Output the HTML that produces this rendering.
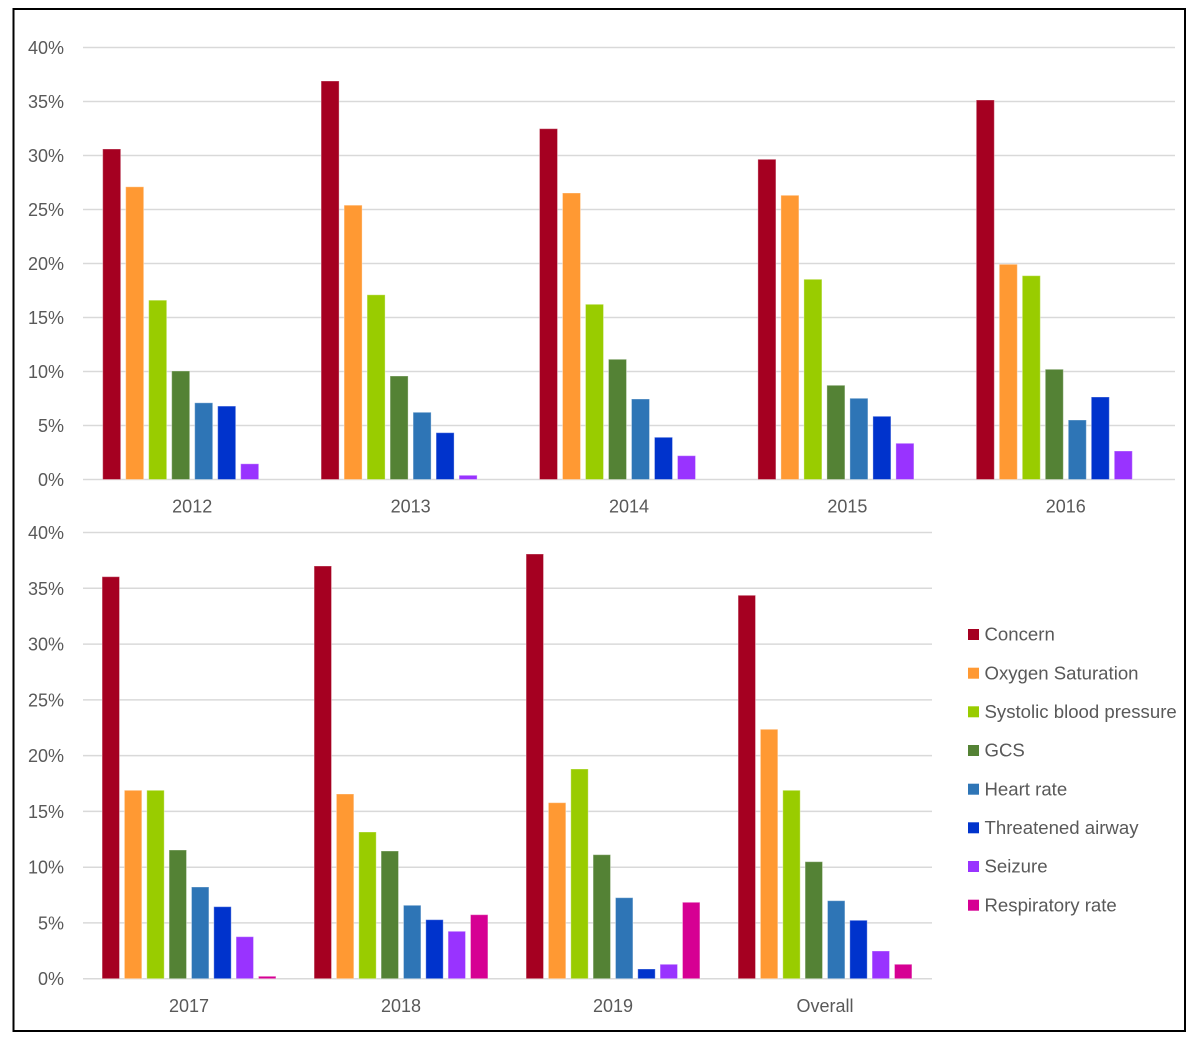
<!DOCTYPE html>
<html><head><meta charset="utf-8"><style>
html,body{margin:0;padding:0;background:#fff;}
svg{display:block;}
text{font-family:"Liberation Sans",Arial,sans-serif;fill:#595959;font-size:18px;}
.lg text{font-size:18.6px;}
</style></head><body>
<svg width="1200" height="1038" viewBox="0 0 1200 1038" xmlns="http://www.w3.org/2000/svg">
<rect x="0" y="0" width="1200" height="1038" fill="#fff"/>
<rect x="13.5" y="9" width="1171.5" height="1022" fill="none" stroke="#000" stroke-width="2"/>
<!-- Top gridlines -->
<g stroke="#D9D9D9" stroke-width="1.5">
<line x1="83" x2="1175" y1="47.5" y2="47.5"/><line x1="83" x2="1175" y1="101.5" y2="101.5"/>
<line x1="83" x2="1175" y1="155.5" y2="155.5"/><line x1="83" x2="1175" y1="209.5" y2="209.5"/>
<line x1="83" x2="1175" y1="263.5" y2="263.5"/><line x1="83" x2="1175" y1="317.5" y2="317.5"/>
<line x1="83" x2="1175" y1="371.5" y2="371.5"/><line x1="83" x2="1175" y1="425.5" y2="425.5"/>
<line x1="83" x2="1175" y1="479.5" y2="479.5"/>
</g>
<g text-anchor="end">
<text x="64" y="54">40%</text><text x="64" y="108">35%</text><text x="64" y="162">30%</text>
<text x="64" y="216">25%</text><text x="64" y="270">20%</text><text x="64" y="324">15%</text>
<text x="64" y="378">10%</text><text x="64" y="432">5%</text><text x="64" y="486">0%</text>
</g>
<g text-anchor="middle">
<text x="192.2" y="512.5">2012</text><text x="410.6" y="512.5">2013</text><text x="629" y="512.5">2014</text>
<text x="847.4" y="512.5">2015</text><text x="1065.8" y="512.5">2016</text>
</g>
<!-- Top bars -->
<g stroke="#ffffff" stroke-opacity="0.35" stroke-width="1">
<rect x="102.7" y="149" width="18" height="330.5" fill="#A50021"/>
<rect x="125.7" y="186.8" width="18" height="292.7" fill="#FF9933"/>
<rect x="148.7" y="300.2" width="18" height="179.3" fill="#99CC00"/>
<rect x="171.7" y="371" width="18" height="108.5" fill="#548235"/>
<rect x="194.7" y="402.8" width="18" height="76.7" fill="#2E75B6"/>
<rect x="217.7" y="406.1" width="18" height="73.4" fill="#0033CC"/>
<rect x="240.7" y="463.8" width="18" height="15.7" fill="#9933FF"/>
<rect x="321.1" y="81" width="18" height="398.5" fill="#A50021"/>
<rect x="344.1" y="205.2" width="18" height="274.3" fill="#FF9933"/>
<rect x="367.1" y="294.8" width="18" height="184.7" fill="#99CC00"/>
<rect x="390.1" y="376" width="18" height="103.5" fill="#548235"/>
<rect x="413.1" y="412.3" width="18" height="67.2" fill="#2E75B6"/>
<rect x="436.1" y="432.7" width="18" height="46.8" fill="#0033CC"/>
<rect x="459.1" y="475.3" width="18" height="4.2" fill="#9933FF"/>
<rect x="539.5" y="128.7" width="18" height="350.8" fill="#A50021"/>
<rect x="562.5" y="193" width="18" height="286.5" fill="#FF9933"/>
<rect x="585.5" y="304.3" width="18" height="175.2" fill="#99CC00"/>
<rect x="608.5" y="359.3" width="18" height="120.2" fill="#548235"/>
<rect x="631.5" y="399" width="18" height="80.5" fill="#2E75B6"/>
<rect x="654.5" y="437.3" width="18" height="42.2" fill="#0033CC"/>
<rect x="677.5" y="455.7" width="18" height="23.8" fill="#9933FF"/>
<rect x="757.9" y="159.3" width="18" height="320.2" fill="#A50021"/>
<rect x="780.9" y="195.3" width="18" height="284.2" fill="#FF9933"/>
<rect x="803.9" y="279.3" width="18" height="200.2" fill="#99CC00"/>
<rect x="826.9" y="385.3" width="18" height="94.2" fill="#548235"/>
<rect x="849.9" y="398.3" width="18" height="81.2" fill="#2E75B6"/>
<rect x="872.9" y="416.3" width="18" height="63.2" fill="#0033CC"/>
<rect x="895.9" y="443.3" width="18" height="36.2" fill="#9933FF"/>
<rect x="976.3" y="100" width="18" height="379.5" fill="#A50021"/>
<rect x="999.3" y="264.3" width="18" height="215.2" fill="#FF9933"/>
<rect x="1022.3" y="275.7" width="18" height="203.8" fill="#99CC00"/>
<rect x="1045.3" y="369.3" width="18" height="110.2" fill="#548235"/>
<rect x="1068.3" y="420" width="18" height="59.5" fill="#2E75B6"/>
<rect x="1091.3" y="397" width="18" height="82.5" fill="#0033CC"/>
<rect x="1114.3" y="451" width="18" height="28.5" fill="#9933FF"/>
</g>

<!-- Bottom gridlines -->
<g stroke="#D9D9D9" stroke-width="1.5">
<line x1="83" x2="932" y1="532.5" y2="532.5"/><line x1="83" x2="932" y1="588.3" y2="588.3"/>
<line x1="83" x2="932" y1="644.1" y2="644.1"/><line x1="83" x2="932" y1="699.9" y2="699.9"/>
<line x1="83" x2="932" y1="755.6" y2="755.6"/><line x1="83" x2="932" y1="811.4" y2="811.4"/>
<line x1="83" x2="932" y1="867.2" y2="867.2"/><line x1="83" x2="932" y1="922.9" y2="922.9"/>
<line x1="83" x2="932" y1="978.7" y2="978.7"/>
</g>
<g text-anchor="end">
<text x="64" y="539">40%</text><text x="64" y="595">35%</text><text x="64" y="650.5">30%</text>
<text x="64" y="706.5">25%</text><text x="64" y="762">20%</text><text x="64" y="818">15%</text>
<text x="64" y="873.5">10%</text><text x="64" y="929.5">5%</text><text x="64" y="985">0%</text>
</g>
<g text-anchor="middle">
<text x="189" y="1012">2017</text><text x="401" y="1012">2018</text><text x="613" y="1012">2019</text>
<text x="825" y="1012">Overall</text>
</g>
<!-- Bottom bars -->
<g stroke="#ffffff" stroke-opacity="0.35" stroke-width="1">
<rect x="102.1" y="576.7" width="17.4" height="402" fill="#A50021"/>
<rect x="124.4" y="790.3" width="17.4" height="188.4" fill="#FF9933"/>
<rect x="146.8" y="790.3" width="17.4" height="188.4" fill="#99CC00"/>
<rect x="169.1" y="850" width="17.4" height="128.7" fill="#548235"/>
<rect x="191.5" y="887" width="17.4" height="91.7" fill="#2E75B6"/>
<rect x="213.8" y="906.7" width="17.4" height="72" fill="#0033CC"/>
<rect x="236.1" y="936.7" width="17.4" height="42" fill="#9933FF"/>
<rect x="258.5" y="976.3" width="17.4" height="2.4" fill="#D60093"/>
<rect x="314.1" y="566" width="17.4" height="412.7" fill="#A50021"/>
<rect x="336.4" y="794" width="17.4" height="184.7" fill="#FF9933"/>
<rect x="358.8" y="832" width="17.4" height="146.7" fill="#99CC00"/>
<rect x="381.1" y="851" width="17.4" height="127.7" fill="#548235"/>
<rect x="403.5" y="905.3" width="17.4" height="73.4" fill="#2E75B6"/>
<rect x="425.8" y="919.7" width="17.4" height="59" fill="#0033CC"/>
<rect x="448.1" y="931.3" width="17.4" height="47.4" fill="#9933FF"/>
<rect x="470.5" y="914.7" width="17.4" height="64" fill="#D60093"/>
<rect x="526.1" y="554" width="17.4" height="424.7" fill="#A50021"/>
<rect x="548.4" y="802.7" width="17.4" height="176" fill="#FF9933"/>
<rect x="570.8" y="769" width="17.4" height="209.7" fill="#99CC00"/>
<rect x="593.1" y="854.7" width="17.4" height="124" fill="#548235"/>
<rect x="615.5" y="897.7" width="17.4" height="81" fill="#2E75B6"/>
<rect x="637.8" y="969" width="17.4" height="9.7" fill="#0033CC"/>
<rect x="660.1" y="964.3" width="17.4" height="14.4" fill="#9933FF"/>
<rect x="682.5" y="902.3" width="17.4" height="76.4" fill="#D60093"/>
<rect x="738.1" y="595.3" width="17.4" height="383.4" fill="#A50021"/>
<rect x="760.4" y="729.3" width="17.4" height="249.4" fill="#FF9933"/>
<rect x="782.8" y="790.3" width="17.4" height="188.4" fill="#99CC00"/>
<rect x="805.1" y="861.7" width="17.4" height="117" fill="#548235"/>
<rect x="827.5" y="900.7" width="17.4" height="78" fill="#2E75B6"/>
<rect x="849.8" y="920.3" width="17.4" height="58.4" fill="#0033CC"/>
<rect x="872.1" y="951" width="17.4" height="27.7" fill="#9933FF"/>
<rect x="894.5" y="964.3" width="17.4" height="14.4" fill="#D60093"/>
</g>

<!-- Legend -->
<g>
<rect x="968" y="629" width="11" height="11" fill="#A50021"/>
<rect x="968" y="667.7" width="11" height="11" fill="#FF9933"/>
<rect x="968" y="706.3" width="11" height="11" fill="#99CC00"/>
<rect x="968" y="745" width="11" height="11" fill="#548235"/>
<rect x="968" y="783.7" width="11" height="11" fill="#2E75B6"/>
<rect x="968" y="822.3" width="11" height="11" fill="#0033CC"/>
<rect x="968" y="861" width="11" height="11" fill="#9933FF"/>
<rect x="968" y="899.7" width="11" height="11" fill="#D60093"/>
</g>
<g class="lg">
<text x="984.5" y="640.7">Concern</text>
<text x="984.5" y="679.4">Oxygen Saturation</text>
<text x="984.5" y="718">Systolic blood pressure</text>
<text x="984.5" y="756.7">GCS</text>
<text x="984.5" y="795.4">Heart rate</text>
<text x="984.5" y="834">Threatened airway</text>
<text x="984.5" y="872.7">Seizure</text>
<text x="984.5" y="911.4">Respiratory rate</text>
</g>
</svg>
</body></html>
